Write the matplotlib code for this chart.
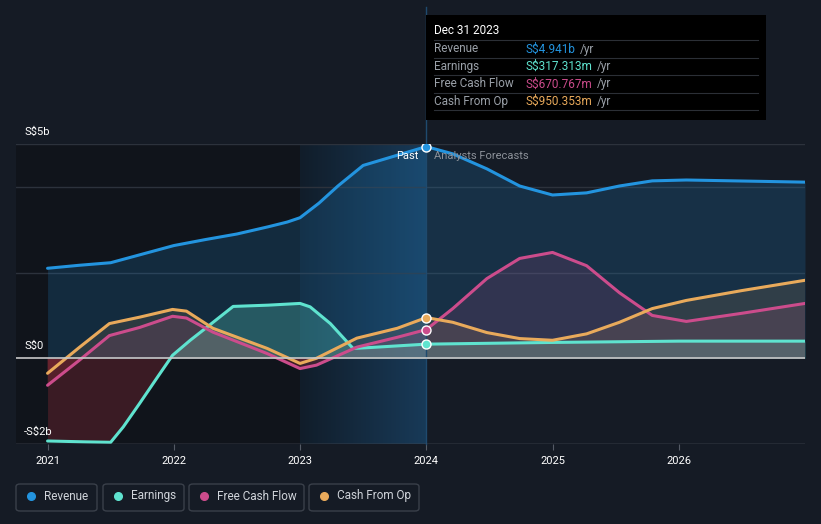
import numpy as np
import matplotlib.pyplot as plt
from matplotlib.patches import FancyBboxPatch, Rectangle
from matplotlib.colors import LinearSegmentedColormap

plt.rcParams['font.family'] = ['Roboto', 'DejaVu Sans']

# values (S$ billions)
rev_x = [2021.0, 2021.25, 2021.5, 2021.75, 2022.0, 2022.25, 2022.5, 2022.75, 2022.9, 2023.0,
         2023.15, 2023.3, 2023.5, 2023.75, 2024.0, 2024.21, 2024.48, 2024.74, 2025.0,
         2025.27, 2025.53, 2025.79, 2026.06, 2027.0]
rev_y = [2.10, 2.17, 2.23, 2.43, 2.63, 2.77, 2.90, 3.07, 3.18, 3.28,
         3.62, 4.02, 4.50, 4.72, 4.94, 4.77, 4.42, 4.02, 3.81,
         3.86, 4.02, 4.14, 4.16, 4.11]

earn_x = [2021.0, 2021.3, 2021.5, 2021.6, 2021.73, 2021.88, 2021.99, 2022.13, 2022.26, 2022.47,
          2022.75, 2023.0, 2023.08, 2023.24, 2023.42, 2023.55, 2024.0, 2025.0, 2026.0, 2027.0]
earn_y = [-1.93, -1.95, -1.96, -1.60, -1.05, -0.40, 0.07, 0.42, 0.72, 1.21,
          1.24, 1.28, 1.20, 0.81, 0.23, 0.25, 0.33, 0.37, 0.40, 0.40]

fcf_x = [2021.0, 2021.25, 2021.49, 2021.73, 2021.99, 2022.1, 2022.31, 2022.74, 2023.0, 2023.13,
         2023.45, 2023.77, 2024.0, 2024.21, 2024.48, 2024.74, 2025.0, 2025.27, 2025.53, 2025.79,
         2026.06, 2026.5, 2027.0]
fcf_y = [-0.63, -0.05, 0.53, 0.72, 0.98, 0.94, 0.61, 0.11, -0.24, -0.16,
         0.26, 0.49, 0.67, 1.16, 1.86, 2.33, 2.47, 2.16, 1.53, 1.00,
         0.86, 1.05, 1.28]

cfo_x = [2021.0, 2021.25, 2021.49, 2021.73, 2021.99, 2022.1, 2022.31, 2022.74, 2023.0, 2023.13,
         2023.45, 2023.77, 2024.0, 2024.21, 2024.48, 2024.74, 2025.0, 2025.27, 2025.53, 2025.79,
         2026.06, 2026.5, 2027.0]
cfo_y = [-0.35, 0.25, 0.81, 0.96, 1.14, 1.10, 0.70, 0.23, -0.12, 0.00,
         0.47, 0.70, 0.95, 0.84, 0.60, 0.46, 0.42, 0.57, 0.84, 1.16,
         1.35, 1.58, 1.82]

legend_names = ["Revenue", "Earnings", "Free Cash Flow", "Cash From Op"]
tip_values = ["S$4.941b", "S$317.313m", "S$670.767m", "S$950.353m"]
year_ticks = [2021, 2022, 2023, 2024, 2025, 2026]

c_rev = "#2394df"
c_earn = "#5fe3cf"
c_fcf = "#cc4c8c"
c_cfo = "#e9aa5b"
c_neg = "#8a2a36"
bg = "#151b25"
W, H = 821, 524

fig = plt.figure(figsize=(W/100, H/100), dpi=100)
fig.patch.set_facecolor(bg)
ax = fig.add_axes([16/W, 1 - 444/H, (805 - 16)/W, 300/H])
ax.set_facecolor(bg)
ax.set_xlim(2020.75, 2027.0)
ax.set_ylim(-2, 5)

# past (darker) and last year highlight
ax.axvspan(2020.75, 2024.0, color="#10141b", zorder=0)
grad = np.linspace(0, 1, 200).reshape(1, -1)
cm = LinearSegmentedColormap.from_list("g", ["#111d2a", "#183a58"])
ax.imshow(grad, extent=[2023.0, 2024.0, -2, 5], aspect="auto", cmap=cm, zorder=0.5)

for gy in [-2, 2, 4, 5]:
    ax.axhline(gy, color="#2c323c", lw=1, zorder=1)
ax.axhline(0, color="#c8c8c8", lw=1.2, zorder=6)

series = [(rev_x, rev_y, c_rev, 0.18), (earn_x, earn_y, c_earn, 0.25),
          (fcf_x, fcf_y, c_fcf, 0.15), (cfo_x, cfo_y, c_cfo, 0.12)]
for xs, ys, col, a in series:
    xa, ya = np.array(xs), np.array(ys)
    ax.fill_between(xa, ya, 0, where=ya >= 0, interpolate=True, color=col, alpha=a, lw=0, zorder=2)
    ax.fill_between(xa, ya, 0, where=ya <= 0, interpolate=True, color=c_neg, alpha=0.35, lw=0, zorder=2)
for xs, ys, col, a in series:
    ax.plot(xs, ys, color=col, lw=2.2, zorder=5, solid_capstyle="round", solid_joinstyle="round")
    i = xs.index(2024.0)
    ax.plot(xs[i], ys[i], "o", ms=6.5, color=col, mec="white", mew=1, zorder=8)

ax.plot([2024.0, 2024.0], [-2, 8.2], color="#1f4a6e", lw=1, zorder=4, clip_on=False)

for s in ax.spines.values():
    s.set_visible(False)
ax.axhline(-2, color="#555b66", lw=1, zorder=6)
ax.set_yticks([])
ax.set_xticks(year_ticks)
ax.set_xticklabels([str(y) for y in year_ticks], color="white", fontsize=8)
ax.tick_params(axis="x", length=4, color="#555b66", pad=5)

# y labels
fig.text(24/W, 1 - 132/H, "S$5b", color="white", fontsize=8, va="center")
fig.text(24/W, 1 - 346/H, "S$0", color="white", fontsize=8, va="center")
fig.text(24/W, 1 - 432/H, "-S$2b", color="white", fontsize=8, va="center")

fig.text(418/W, 1 - 156/H, "Past", color="white", fontsize=8, ha="right", va="center")
fig.text(434/W, 1 - 156/H, "Analysts Forecasts", color="#8c9199", fontsize=8, va="center")

# tooltip
tip = Rectangle((426/W, 1 - 120/H), 340/W, 105/H, transform=fig.transFigure,
                facecolor="black", edgecolor="none", zorder=10)
fig.patches.append(tip)
fig.text(434/W, 1 - 31/H, "Dec 31 2023", color="white", fontsize=8.5, va="center", zorder=11)
row_cols = [c_rev, c_earn, c_fcf, c_cfo]
fig.canvas.draw()
for k in range(4):
    yy = 1 - (49 + 17.5 * k)/H
    fig.text(434/W, yy, legend_names[k], color="#9aa0a8", fontsize=8.5, va="center", zorder=11)
    t = fig.text(526/W, yy, tip_values[k], color=row_cols[k], fontsize=8.5, va="center", zorder=11)
    bb = t.get_window_extent(renderer=fig.canvas.get_renderer())
    fig.text((bb.x1 + 4)/W, yy, "/yr", color="#9aa0a8", fontsize=8.5, va="center", zorder=11)
for k in range(5):
    ly = 1 - (40 + 17.5 * k)/H
    fig.add_artist(plt.Line2D([434/W, 758/W], [ly, ly], color="#2b2f36", lw=0.8, zorder=11))

# legend boxes
boxes = [(16, 97), (103, 184), (189, 304), (309, 419)]
for (x0, x1), name, col in zip(boxes, legend_names, row_cols):
    p = FancyBboxPatch((x0/W, 1 - 511/H), (x1 - x0)/W, 27/H, transform=fig.transFigure,
                       boxstyle="round,pad=0,rounding_size=0.005", facecolor=bg,
                       edgecolor="#3a404a", lw=1)
    fig.patches.append(p)
    fig.add_artist(plt.Line2D([(x0 + 15)/W], [1 - 496/H], marker="o", ms=5.5, color=col, mec=col))
    fig.text((x0 + 28)/W, 1 - 496/H, name, color="#d0d4da", fontsize=8.5, va="center", zorder=3)

fig.savefig("out.png", dpi=100, facecolor=bg)
